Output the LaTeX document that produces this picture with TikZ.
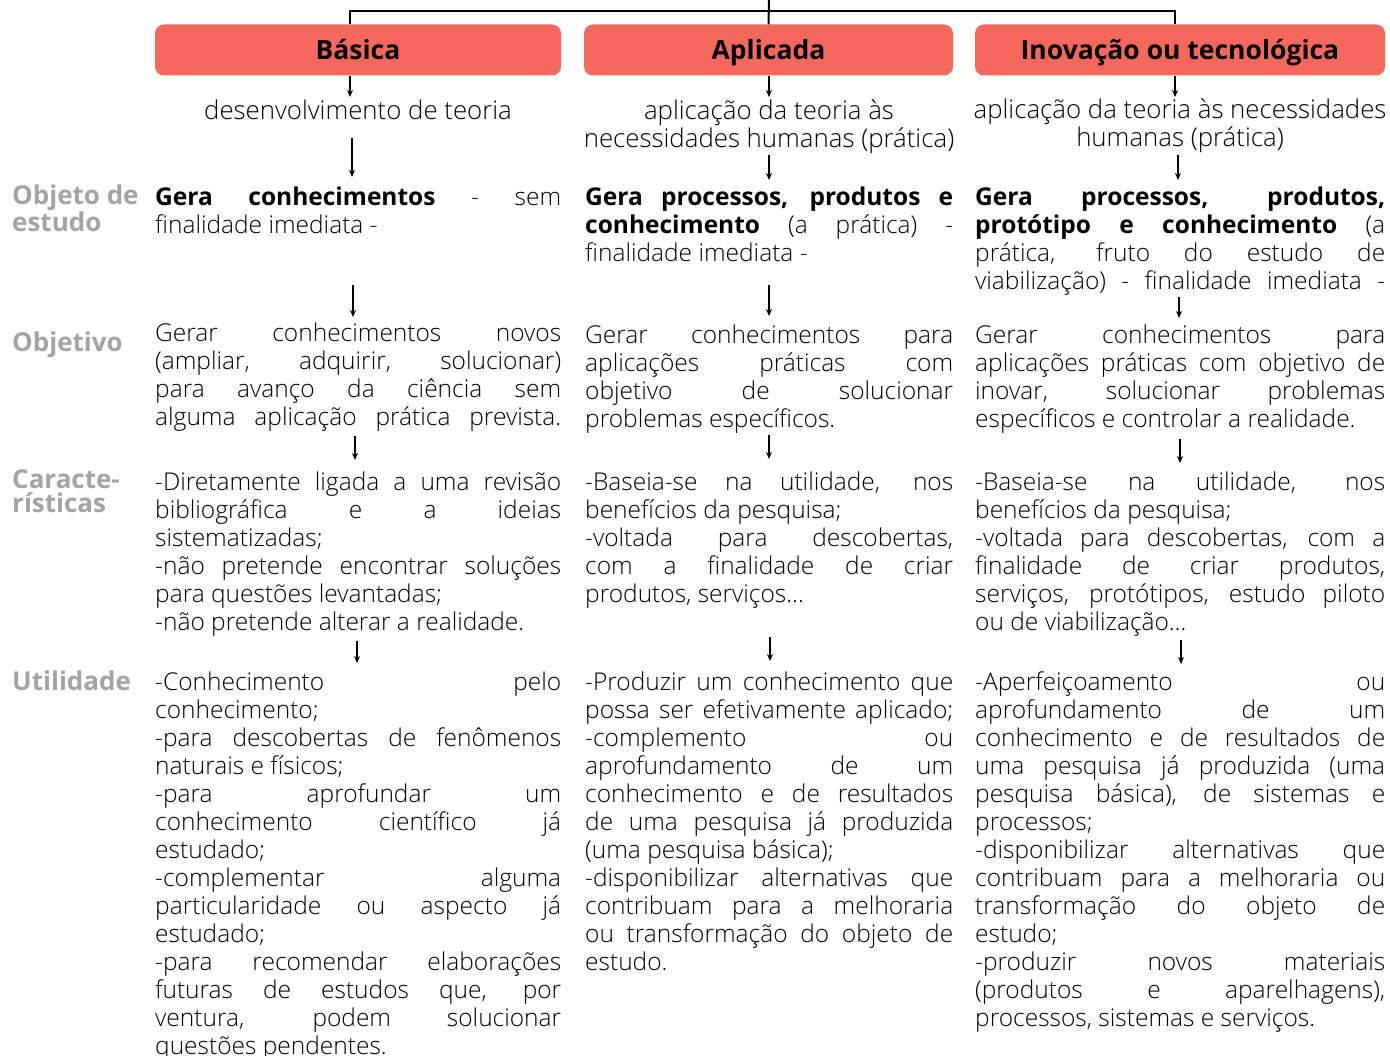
\documentclass[tikz,border=0pt]{standalone}
\usepackage{fontspec}
\setmainfont{Open Sans}[UprightFont=* Light, BoldFont=* Bold]
\usetikzlibrary{arrows.meta,calc}
\definecolor{coral}{RGB}{247,104,92}
\definecolor{lblgray}{RGB}{163,163,163}
\newcommand\jline[1]{\makebox[\linewidth][s]{#1}\\}
\newcommand\jlast[1]{\makebox[\linewidth][s]{#1}}
\lineskiplimit=-100pt
\begin{document}
\begin{tikzpicture}[x=1pt,y=-1pt,
  hdr/.style={fill=coral, rounded corners=9pt, inner sep=0pt, minimum height=51pt,
    text height=19pt, text depth=0pt, font=\fontsize{26.5}{28}\selectfont\bfseries},
  tree/.style={line width=2pt},
  arr/.style={line width=1.5pt,-{Stealth[length=7pt,width=6pt]}},
  lbl/.style={anchor=base west, inner sep=0pt, font=\fontsize{26}{24}\selectfont\bfseries, text=lblgray},
  blk/.style={anchor=base west, inner sep=0pt, font=\fontsize{24.5}{28}\selectfont},
  cen/.style={anchor=base, inner sep=0pt, font=\fontsize{25.8}{28}\selectfont},
]
\useasboundingbox (0,0) rectangle (1390,1056);

% headers
\node[hdr, minimum width=406pt] (h1) at (358,50) {Básica};
\node[hdr, minimum width=369pt] (h2) at (768.5,50) {Aplicada};
\node[hdr, minimum width=410pt] (h3) at (1180,50) {Inovação ou tecnológica};

% top tree
\coordinate (top) at (769,0);
\coordinate (t1) at (350,11);
\coordinate (t3) at (1175,11);
\draw[tree] (h1.north -| t1) -- (t1) -- (t3) -- (h3.north -| t3);
\draw[tree] (top) -- (h2.north);

% labels
\node[lbl] (l2) at (12,205) {\parbox[t]{140pt}{Objeto de\\estudo}};
\node[lbl] (l3) at (12,352) {\parbox[t]{140pt}{Objetivo}};
\node[lbl] (l4) at (12,489) {\parbox[t]{140pt}{Caracte-\\rísticas}};
\node[lbl] (l5) at (12,690) {\parbox[t]{140pt}{Utilidade}};

% row 1
\node[cen] (r1c1) at (358,120) {\parbox[t]{406pt}{\centering desenvolvimento de teoria}};
\node[cen] (r1c2) at (769,120) {\parbox[t]{400pt}{\centering aplicação da teoria às\\necessidades humanas (prática)}};
\node[cen] (r1c3) at (1180,119) {\parbox[t]{420pt}{\centering aplicação da teoria às necessidades\\humanas (prática)}};

% row 2
\node[blk] (r2c1) at (155,206) {\parbox[t]{406pt}{%
\jline{\textbf{Gera conhecimentos} - sem}
finalidade imediata -}};
\node[blk] (r2c2) at (585,206) {\parbox[t]{368pt}{%
\jline{\textbf{Gera processos, produtos e}}
\jline{\textbf{conhecimento} (a prática) -}
finalidade imediata -}};
\node[blk] (r2c3) at (975,206) {\parbox[t]{410pt}{%
\jline{\textbf{Gera processos, produtos,}}
\jline{\textbf{protótipo e conhecimento} (a}
\jline{prática, fruto do estudo de}
\jlast{viabilização) - finalidade imediata -}}};

% row 3
\node[blk] (r3c1) at (155,342) {\parbox[t]{406pt}{%
\jline{Gerar conhecimentos novos}
\jline{(ampliar, adquirir, solucionar)}
\jline{para avanço da ciência sem}
\jlast{alguma aplicação prática prevista.}}};
\node[blk] (r3c2) at (585,344) {\parbox[t]{368pt}{%
\jline{Gerar conhecimentos para}
\jline{aplicações práticas com}
\jline{objetivo de solucionar}
problemas específicos.}};
\node[blk] (r3c3) at (975,344) {\parbox[t]{410pt}{%
\jline{Gerar conhecimentos para}
\jline{aplicações práticas com objetivo de}
\jline{inovar, solucionar problemas}
específicos e controlar a realidade.}};

% row 4
\node[blk] (r4c1) at (155,490) {\parbox[t]{406pt}{%
\jline{-Diretamente ligada a uma revisão}
\jline{bibliográfica e a ideias}
sistematizadas;\\
\jline{-não pretende encontrar soluções}
para questões levantadas;\\
-não pretende alterar a realidade.}};
\node[blk] (r4c2) at (585,490) {\parbox[t]{368pt}{%
\jline{-Baseia-se na utilidade, nos}
benefícios da pesquisa;\\
\jline{-voltada para descobertas,}
\jline{com a finalidade de criar}
produtos, serviços…}};
\node[blk] (r4c3) at (975,490) {\parbox[t]{410pt}{%
\jline{-Baseia-se na utilidade, nos}
benefícios da pesquisa;\\
\jline{-voltada para descobertas, com a}
\jline{finalidade de criar produtos,}
\jline{serviços, protótipos, estudo piloto}
ou de viabilização…}};

% row 5
\node[blk] (r5c1) at (155,690) {\parbox[t]{406pt}{%
\jline{-Conhecimento pelo}
conhecimento;\\
\jline{-para descobertas de fenômenos}
naturais e físicos;\\
\jline{-para aprofundar um}
\jline{conhecimento científico já}
estudado;\\
\jline{-complementar alguma}
\jline{particularidade ou aspecto já}
estudado;\\
\jline{-para recomendar elaborações}
\jline{futuras de estudos que, por}
\jline{ventura, podem solucionar}
questões pendentes.}};
\node[blk] (r5c2) at (585,690) {\parbox[t]{368pt}{%
\jline{-Produzir um conhecimento que}
\jline{possa ser efetivamente aplicado;}
\jline{-complemento ou}
\jline{aprofundamento de um}
\jline{conhecimento e de resultados}
\jline{de uma pesquisa já produzida}
(uma pesquisa básica);\\
\jline{-disponibilizar alternativas que}
\jline{contribuam para a melhoraria}
\jline{ou transformação do objeto de}
estudo.}};
\node[blk] (r5c3) at (975,690) {\parbox[t]{410pt}{%
\jline{-Aperfeiçoamento ou}
\jline{aprofundamento de um}
\jline{conhecimento e de resultados de}
\jline{uma pesquisa já produzida (uma}
\jline{pesquisa básica), de sistemas e}
processos;\\
\jline{-disponibilizar alternativas que}
\jline{contribuam para a melhoraria ou}
\jline{transformação do objeto de}
estudo;\\
\jline{-produzir novos materiais}
\jline{(produtos e aparelhagens),}
processos, sistemas e serviços.}};

% arrows
\foreach \n/\x/\ya/\yb in {
  a/350/76/97, b/352/138/177, c/353/285/317, d/355/436/460, e/357/641/663,
  f/769/76/97, g/769/155/180, h/769/285/316, i/769/435/459, j/770/637/661,
  k/1175/76/97, l/1178/155/180, m/1179/297/318, n/1180/439/463, o/1181/640/664}{
  \coordinate (s\n) at (\x,\ya);
  \coordinate (e\n) at (\x,\yb);
  \draw[arr] (s\n) -- (e\n);
}
\end{tikzpicture}
\end{document}
